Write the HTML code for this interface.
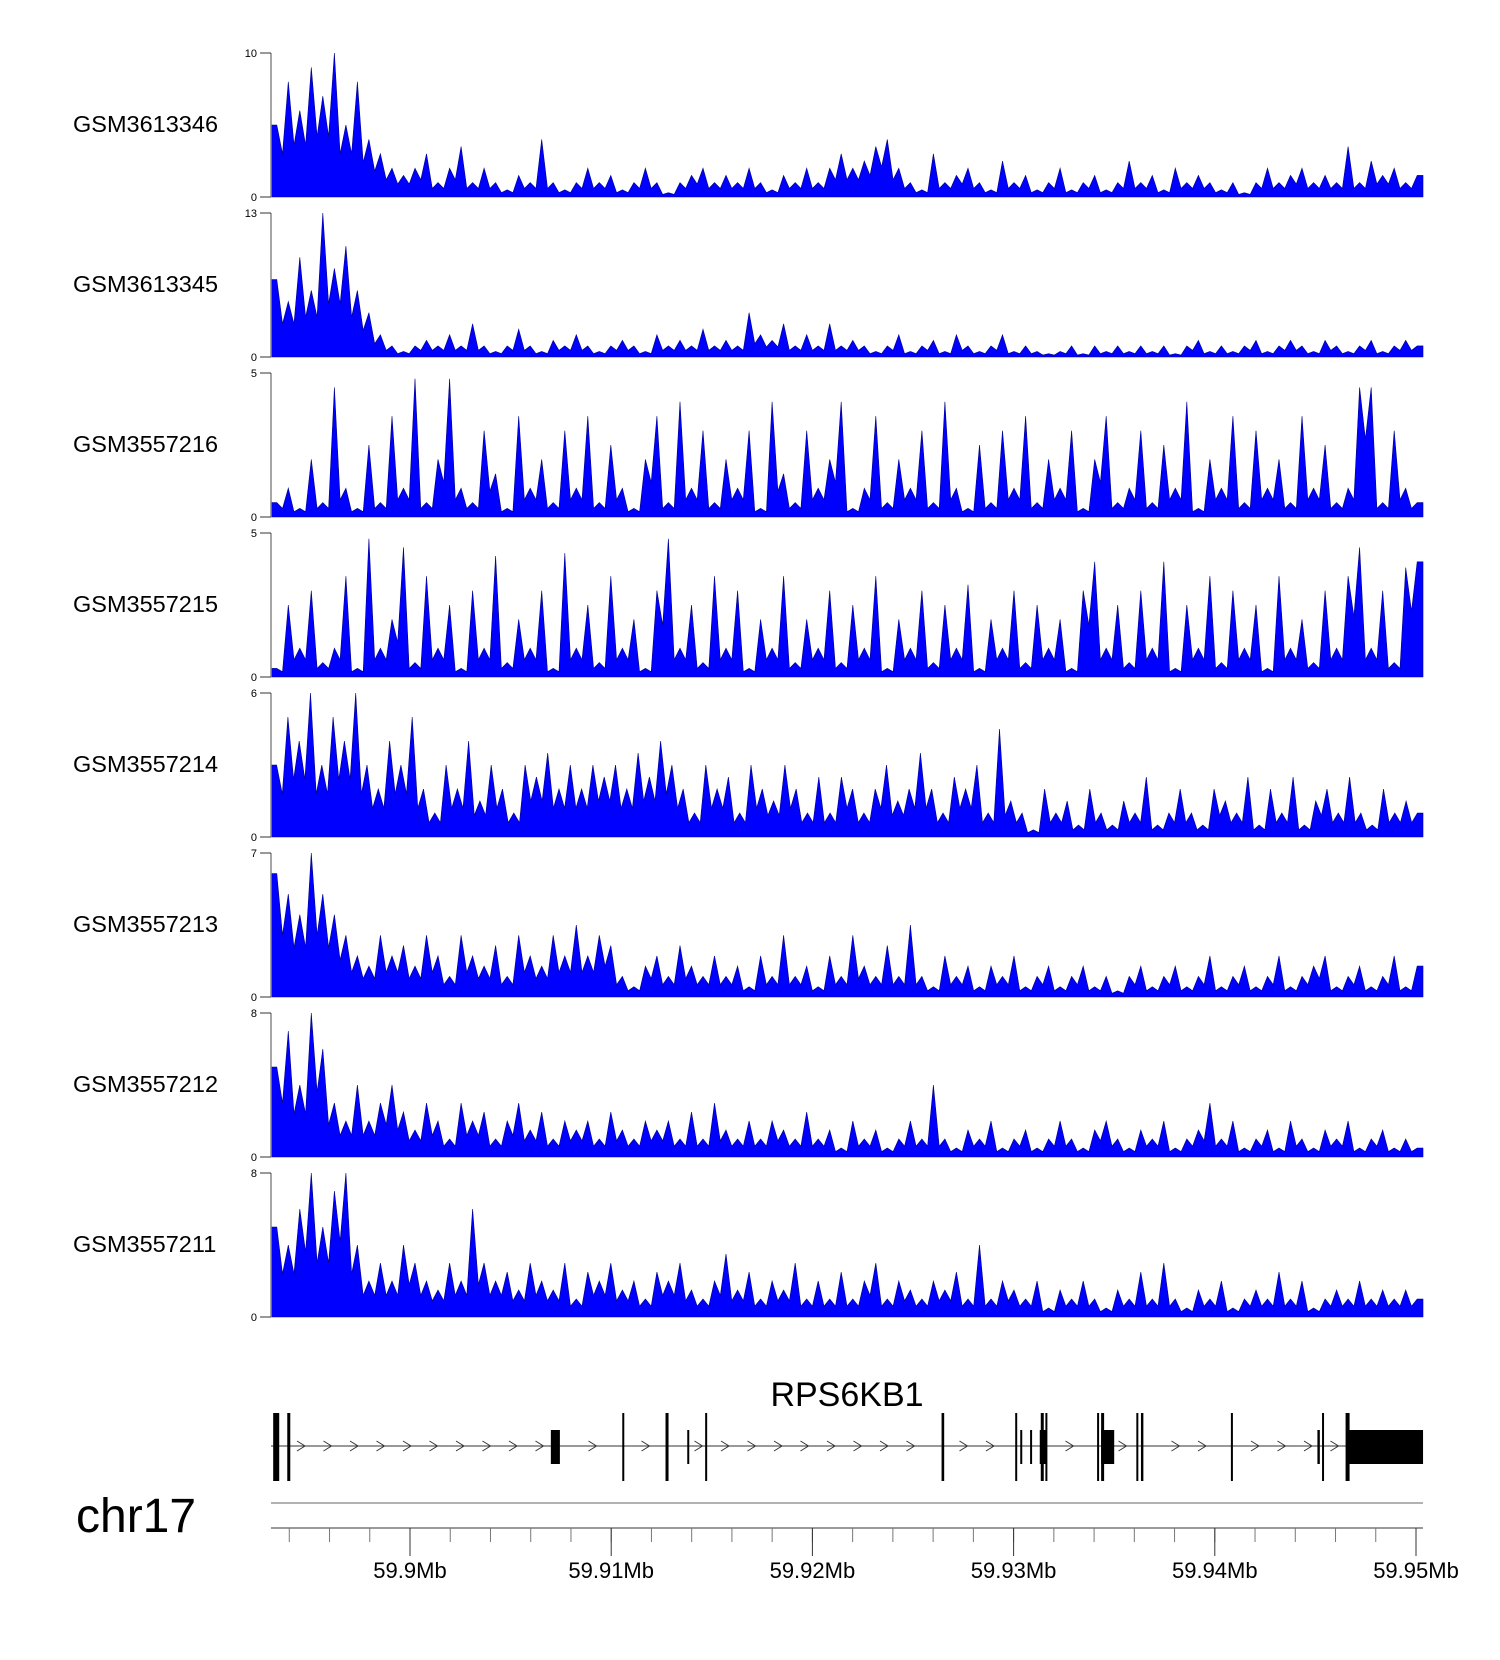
<!DOCTYPE html>
<html><head><meta charset="utf-8"><style>
body{margin:0;background:#fff;}
svg{display:block;font-family:"Liberation Sans",sans-serif;}
</style></head><body>
<svg id="c" width="1500" height="1660" viewBox="0 0 1500 1660"></svg>
<script>
const sampleNames=["GSM3613346","GSM3613345","GSM3557216","GSM3557215","GSM3557214","GSM3557213","GSM3557212","GSM3557211"];
const yMaxValues=[10,13,5,5,6,7,8,8];
const s1=[5,8,6,9,7,10,5,8,4,3,2,1.5,2,3,1,2,3.5,1,2,1,0.5,1.5,1,4,1,0.5,1,2,1,1.5,0.5,1,2,1,0.3,1,1.5,2,1,1.5,1,2,1,0.5,1.5,1,2,1,2,3,2,2.5,3.5,4,2,1,0.5,3,1,1.5,2,1,0.5,2.5,1,1.5,0.5,1,2,0.5,1,1.5,0.5,1,2.5,1,1.5,0.5,2,1,1.5,1,0.5,1,0.3,1,2,1,1.5,2,1,1.5,1,3.5,1,2.5,1.5,2,1,1.5];
const s2=[7,5,9,6,13,8,10,6,4,2,1,0.5,1,1.5,1,2,1,3,1,0.5,1,2.5,1,0.5,1.5,1,2,1,0.5,1,1.5,1,0.5,2,1,1.5,1,2.5,1,1.5,1,4,2,1.5,3,1,2,1,3,1,1.5,1,0.5,1,2,0.5,1,1.5,0.5,2,1,0.5,1,2,0.5,1,0.5,0.3,0.5,1,0.3,1,0.5,1,0.5,1,0.5,1,0.3,1,1.5,0.5,1,0.5,1,1.5,0.5,1,1.5,1,0.5,1.5,1,0.5,1,1.5,0.5,1,1.5,1];
const s3=[0.5,1,0.3,2,0.5,4.5,1,0.3,2.5,0.5,3.5,1,4.8,0.5,2,4.8,1,0.5,3,1.5,0.3,3.5,1,2,0.5,3,1,3.5,0.5,2.5,1,0.3,2,3.5,0.5,4,1,3,0.5,2,1,3,0.3,4,1.5,0.5,3,1,2,4,0.3,1,3.5,0.5,2,1,3,0.5,4,1,0.3,2.5,0.5,3,1,3.5,0.5,2,1,3,0.3,2,3.5,0.5,1,3,0.5,2.5,1,4,0.3,2,1,3.5,0.5,3,1,2,0.5,3.5,1,2.5,0.5,1,4.5,4.5,0.5,3,1,0.5];
const s4=[0.3,2.5,1,3,0.5,1,3.5,0.3,4.8,1,2,4.5,0.5,3.5,1,2.5,0.3,3,1,4.2,0.5,2,1,3,0.3,4.3,1,2.5,0.5,3.5,1,2,0.3,3,4.8,1,2.5,0.5,3.5,1,3,0.3,2,1,3.5,0.5,2,1,3,0.5,2.5,1,3.5,0.3,2,1,3,0.5,2.5,1,3.2,0.3,2,1,3,0.5,2.5,1,2,0.3,3,4,1,2.5,0.5,3,1,4,0.3,2.5,1,3.5,0.5,3,1,2.5,0.3,3.5,1,2,0.5,3,1,3.5,4.5,1,3,0.5,3.8,4];
const s5=[3,5,4,6,3,5,4,6,3,2,4,3,5,2,1,3,2,4,1.5,3,2,1,3,2.5,3.5,2,3,2,3,2.5,3,2,3.5,2.5,4,3,2,1,3,2,2.5,1,3,2,1.5,3,2,1,2.5,1,2.5,2,1,2,3,1.5,2,3.5,2,1,2.5,2,3,1,4.5,1.5,1,0.3,2,1,1.5,0.5,2,1,0.5,1.5,1,2.5,0.5,1,2,1,0.5,2,1.5,1,2.5,0.5,2,1,2.5,0.5,1.5,2,1,2.5,1,0.5,2,1,1.5,1];
const s6=[6,5,4,7,5,4,3,2,1.5,3,2,2.5,1.5,3,2,1,3,2,1.5,2.5,1,3,2,1.5,3,2,3.5,2,3,2.5,1,0.5,1.5,2,1,2.5,1.5,1,2,1,1.5,0.5,2,1,3,1,1.5,0.5,2,1,3,1.5,1,2.5,1,3.5,1,0.5,2,1,1.5,0.5,1.5,1,2,0.5,1,1.5,0.5,1,1.5,0.5,1,0.3,1,1.5,0.5,1,1.5,0.5,1,2,0.5,1,1.5,0.5,1,2,0.5,1,1.5,2,0.5,1,1.5,0.5,1,2,0.5,1.5];
const s7=[5,7,4,8,6,3,2,4,2,3,4,2.5,1.5,3,2,1,3,2,2.5,1,2,3,1.5,2.5,1,2,1.5,2,1,2.5,1.5,1,2,1.5,2,1,2.5,1,3,1.5,1,2,1,2,1.5,1,2.5,1,1.5,0.5,2,1,1.5,0.5,1,2,1,4,1,0.5,1.5,1,2,0.5,1,1.5,0.5,1,2,1,0.5,1.5,2,1,0.5,1.5,1,2,0.5,1,1.5,3,1,2,0.5,1,1.5,0.5,2,1,0.5,1.5,1,2,0.5,1,1.5,0.5,1,0.5];
const s8=[5,4,6,8,5,7,8,4,2,3,2,4,3,2,1.5,3,2,6,3,2,2.5,1.5,3,2,1.5,3,1,2.5,2,3,1.5,2,1,2.5,2,3,1.5,1,2,3.5,1.5,2.5,1,2,1.5,3,1,2,1,2.5,1,2,3,1,2,1.5,1,2,1.5,2.5,1,4,1,2,1.5,1,2,0.5,1.5,1,2,1,0.5,1.5,1,2.5,1,3,1,0.5,1.5,1,2,0.5,1,1.5,1,2.5,1,2,0.5,1,1.5,1,2,1,1.5,1,1.5,1];
const seriesValues=[s1,s2,s3,s4,s5,s6,s7,s8];
const axisTickLabels=["59.9Mb","59.91Mb","59.92Mb","59.93Mb","59.94Mb","59.95Mb"];
const axisTickKb=[0,10,20,30,40,50];
const exonKb=[[-6.8,-6.6,1],[-6.65,-6.5,1],[-6.1,-5.95,1],[7.0,7.45,0],[10.55,10.65,1],[12.7,12.85,1],[13.78,13.85,2],[14.67,14.75,1],[26.42,26.55,1],[30.08,30.16,1],[30.33,30.4,2],[30.82,30.9,2],[31.3,31.62,0],[31.58,31.66,1],[34.15,34.24,1],[34.35,35.0,0],[36.1,36.17,1],[36.33,36.45,1],[40.8,40.9,1],[45.1,45.22,0],[45.33,45.42,1],[46.5,46.63,1],[46.6,50.35,0]];
const NS="http://www.w3.org/2000/svg";
const svg=document.getElementById('c');
function el(t,a,p){const e=document.createElementNS(NS,t);for(const k in a)e.setAttribute(k,a[k]);(p||svg).appendChild(e);return e;}
const X0=271,X1=1423;
const kbToX=kb=>410+kb*20.12;
sampleNames.forEach((nm,i)=>{
  const top=53+160*i,bot=197+160*i;
  const g=el('g',{});
  
  
  const lab=el('text',{x:73,y:top+79,'font-size':23.5,fill:'#000'},g);lab.textContent=nm;
  
  
  const vals=seriesValues[i],ym=yMaxValues[i];
  const step=(X1-X0)/vals.length;
  const xs=j=>X0+(j+0.5)*step;
  const ys=v=>bot-(v/ym)*(bot-top);
  let d='M'+X0+','+bot+' L'+X0+','+ys(vals[0]).toFixed(1);
  vals.forEach((v,j)=>{
    d+=' L'+xs(j).toFixed(1)+','+ys(v).toFixed(1);
    if(j<vals.length-1){
      const m=Math.min(v,vals[j+1])*0.6;
      d+=' L'+(xs(j)+step*0.5).toFixed(1)+','+ys(m).toFixed(1);
    }
  });
  d+=' L'+X1+','+ys(vals[vals.length-1]).toFixed(1)+' L'+X1+','+bot+' Z';
  const a=el('path',{d:d,fill:'#0000ff',stroke:'#00008b','stroke-width':0.6},g);
  
  
  el('line',{x1:X0,y1:top,x2:X0,y2:bot,stroke:'#888','stroke-width':1.5},g);
  el('line',{x1:X0-11,y1:top,x2:X0,y2:top,stroke:'#333','stroke-width':1},g);
  el('line',{x1:X0-11,y1:bot,x2:X0,y2:bot,stroke:'#333','stroke-width':1},g);
  const t1=el('text',{x:X0-14,y:top+4,'font-size':11,'text-anchor':'end'},g);t1.textContent=ym;
  
  
  const t0=el('text',{x:X0-14,y:bot+4,'font-size':11,'text-anchor':'end'},g);t0.textContent='0';
  
  
});
const gg=el('g',{});


const gt=el('text',{x:847,y:1406,'font-size':34,'text-anchor':'middle'},gg);gt.textContent='RPS6KB1';


const GY=1446;
el('line',{x1:X0,y1:GY,x2:X1,y2:GY,stroke:'#333','stroke-width':1},gg);
for(let x=X0+30;x<1340;x+=26.5){
  let hit=exonKb.some(e=>x-6<kbToX(e[1])+2&&x+4>kbToX(e[0])-2);
  if(!hit)el('path',{d:`M${x-4},${GY-5} L${x+4},${GY} L${x-4},${GY+5}`,fill:'none',stroke:'#333','stroke-width':1},gg);
}
exonKb.forEach(e=>{
  const x0=kbToX(e[0]),x1=kbToX(e[1]);
  let y0,h;
  if(e[2]===1){y0=1413;h=68;} else {y0=1430;h=34;}
  const r=el('rect',{x:x0,y:y0,width:Math.max(2,x1-x0),height:h,fill:'#000'},gg);
  
  
});
[-6.75,31.35,34.35,46.55].forEach(k=>el('rect',{x:kbToX(k),y:1413,width:3,height:68,fill:'#000'},gg));
const chr=el('text',{x:76,y:1532,'font-size':48},svg);chr.textContent='chr17';


el('line',{x1:X0,y1:1503,x2:X1,y2:1503,stroke:'#999','stroke-width':1.5});
const ax=el('g',{});


el('line',{x1:X0,y1:1528,x2:X1,y2:1528,stroke:'#333','stroke-width':1},ax);
for(let k=-6;k<=50;k+=2){el('line',{x1:kbToX(k),y1:1528,x2:kbToX(k),y2:1542,stroke:'#777','stroke-width':1},ax);}
axisTickKb.forEach((k,i)=>{
  el('line',{x1:kbToX(k),y1:1528,x2:kbToX(k),y2:1556,stroke:'#333','stroke-width':1},ax);
  const t=el('text',{x:kbToX(k),y:1578,'font-size':22,'text-anchor':'middle'},ax);t.textContent=axisTickLabels[i];
  
  
});
</script>
</body></html>
